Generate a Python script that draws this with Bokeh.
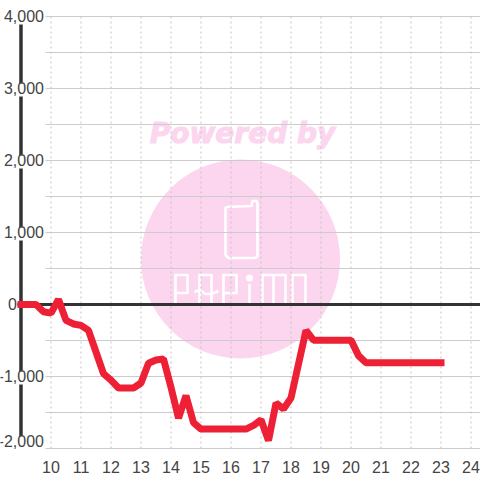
from bokeh.plotting import figure
from bokeh.models import FixedTicker, Range1d
from bokeh.core.properties import value
from bokeh.embed import file_html
from bokeh.resources import INLINE

hours = [9, 9.25, 9.5, 9.75, 10, 10.25, 10.5, 10.75, 11, 11.25, 11.5, 11.75, 12, 12.25, 12.5, 12.75,
         13, 13.25, 13.5, 13.75, 14, 14.25, 14.5, 14.75, 15, 15.25, 15.5, 15.75, 16, 16.25, 16.5, 16.75,
         17, 17.25, 17.5, 17.75, 18, 18.25, 18.5, 18.75, 19, 19.25, 19.5, 19.75, 20, 20.25, 20.5, 20.75,
         21, 21.25, 21.5, 21.75, 22, 22.25, 22.5, 22.75, 23]
balance = [0, 0, 0, -100, -120, 70, -220, -270, -290, -360, -660, -960, -1050, -1160, -1160, -1160,
           -1090, -815, -770, -755, -1150, -1580, -1265, -1640, -1730, -1730, -1730, -1730, -1730, -1730, -1730, -1680,
           -1600, -1890, -1370, -1450, -1300, -825, -360, -495, -495, -495, -495, -495, -495, -710, -810, -810,
           -810, -810, -810, -810, -810, -810, -810, -810, -810]
x_ticks = list(range(10, 25))
y_grid = [4000, 3500, 3000, 2500, 2000, 1500, 1000, 500, 0, -500, -1000, -1500, -2000]
y_labels = ["4,000", "3,000", "2,000", "1,000", "-1,000", "-2,000"]
y_label_pos = [4000, 3000, 2000, 1000, -1000, -1900]

X0, X1 = 8.317, 24.317
Y1, Y0 = 4222.2, -2013.9
def dx(px): return 10 + (px - 50.5) / 30
def dy(py): return (304.5 - py) / 0.072

p = figure(width=480, height=480, output_backend="svg", toolbar_location=None,
           x_range=Range1d(X0, X1), y_range=Range1d(Y0, Y1),
           y_axis_location=None, min_border=0, min_border_left=0, min_border_right=0,
           min_border_top=0, min_border_bottom=31, outline_line_color=None)
p.grid.visible = False

# watermark
PINK = "#fcd5ee"
p.circle([dx(240)], [dy(259)], radius=99.5, radius_units="screen", fill_color=PINK, line_color=None)
p.text([dx(242)], [dy(134)], text=["Powered by"], text_color=PINK, text_font=value("DejaVu Sans"),
       text_font_style="bold italic", text_font_size="28px", text_align="center", text_baseline="middle",
       text_outline_color=PINK)
logo = [
    [(226, 207), (251, 206), (252, 201), (256, 201), (257, 203), (257, 256), (255, 258), (228, 258), (225, 255), (225, 208), (226, 207)],
    [(175, 304), (175, 275), (187, 275), (187, 293), (175, 293)],
    [(199, 304), (199, 275), (211, 275), (211, 304)],
    [(194, 292), (199, 290), (205, 294), (211, 294), (218, 291)],
    [(223, 304), (223, 275), (236, 275), (236, 293), (223, 293)],
    [(249, 284), (249, 304)],
    [(262, 304), (262, 275), (285, 275), (285, 304)],
    [(273, 275), (273, 304)],
    [(292, 304), (292, 275), (305, 275), (305, 304), (292, 304)],
]
p.multi_line([[dx(a) for a, b in s] for s in logo], [[dy(b) for a, b in s] for s in logo],
             line_color="white", line_width=2.6, line_join="round")
p.circle([dx(249)], [dy(278)], radius=3.5, radius_units="screen", fill_color="white", line_color=None)

# grid
p.segment([dx(45)] * len(y_grid), y_grid, [X1] * len(y_grid), y_grid, line_color="#cccccc", line_width=1)
p.segment(x_ticks, [-2000] * len(x_ticks), x_ticks, [4000] * len(x_ticks), line_color="#c4c4c4", line_width=1, line_dash="2 3")

# axis lines, broken behind the tick labels
AXIS = "#333333"
tops = [v - 110 for v in y_label_pos[:-1]]
bottoms = [v + 70 for v in y_label_pos[1:]]
p.segment([9] * len(tops), tops, [9] * len(tops), bottoms, line_color=AXIS, line_width=3.5)
p.segment([dx(17)], [0], [X1], [0], line_color=AXIS, line_width=3)

# series
p.line(hours, balance, line_color="#ee2035", line_width=7, line_cap="square", line_join="bevel")

# y labels
LABEL = "#444444"
p.text([dx(43.5)] * len(y_labels), y_label_pos, text=y_labels, text_color=LABEL,
       text_font=value("Liberation Sans"), text_font_size="16px", text_align="right", text_baseline="middle")
p.text([dx(12)], [0], text=["0"], text_color=LABEL, text_font=value("Liberation Sans"),
       text_font_size="16px", text_align="center", text_baseline="middle")

# x axis
ax = p.xaxis[0]
ax.ticker = FixedTicker(ticks=x_ticks)
ax.axis_line_color = None
ax.major_tick_line_color = None
ax.minor_tick_line_color = None
ax.major_label_text_font = "Liberation Sans"
ax.major_label_text_font_size = "16px"
ax.major_label_text_color = LABEL
ax.major_label_standoff = 5

open("out.html", "w").write(file_html(p, INLINE))
